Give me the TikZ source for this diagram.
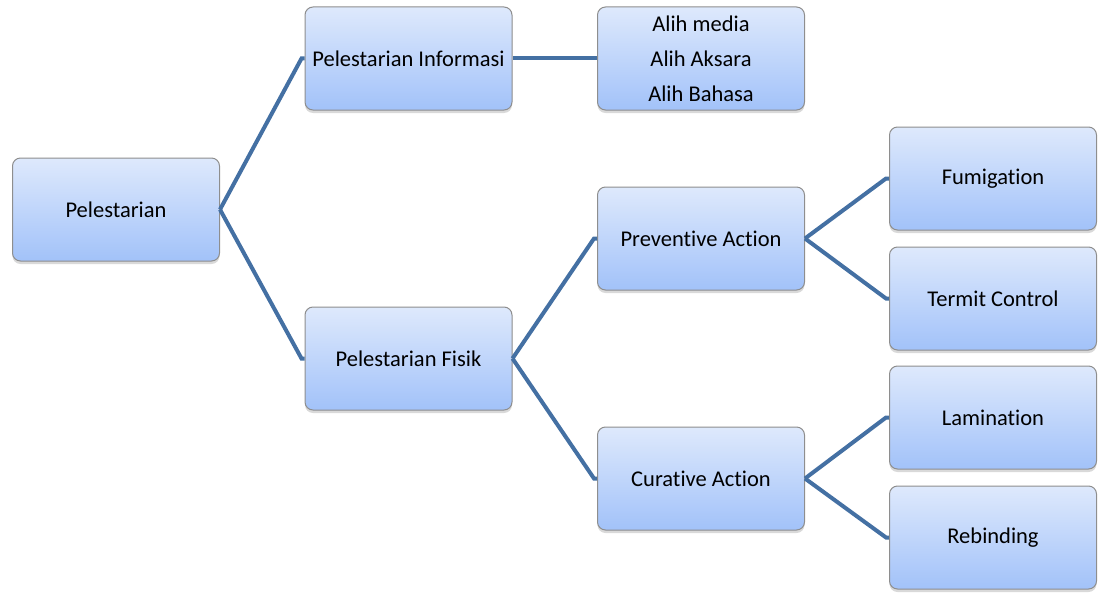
\documentclass[tikz,border=0pt]{standalone}
\usepackage{fontspec}
\setmainfont{Carlito}[Ligatures={NoCommon}]
\usetikzlibrary{shadows}
\definecolor{lineblue}{HTML}{4470A3}
\definecolor{boxtop}{HTML}{DEE9FC}
\definecolor{boxbot}{HTML}{A2C2F9}
\definecolor{boxedge}{HTML}{8E8E8E}
\tikzset{
  box/.style={draw=boxedge, line width=1pt, rounded corners=8pt,
    top color=boxtop, bottom color=boxbot,
    minimum width=207pt, minimum height=103pt, inner sep=0pt,
    align=center, font=\fontsize{22.5}{35}\selectfont,
    drop shadow={shadow xshift=0pt, shadow yshift=-3pt, opacity=0.25, fill=black!60}},
  conn/.style={draw=lineblue, line width=4pt, line join=miter}
}
\begin{document}
\begin{tikzpicture}[x=1pt,y=-1pt]
\useasboundingbox (0,0) rectangle (1098,594);
\node[box] (P) at (116,209.5) {Pelestarian};
\node[box] (PI) at (408.5,58.5) {Pelestarian Informasi};
\node[box] (AL) at (701,58.5) {Alih media\\Alih Aksara\\Alih Bahasa};
\node[box] (PA) at (701,238.5) {Preventive Action};
\node[box] (PF) at (408.5,358.5) {Pelestarian Fisik};
\node[box] (CA) at (701,478.5) {Curative Action};
\node[box] (FU) at (993,178.5) {Fumigation};
\node[box] (TC) at (993,298.5) {Termit Control};
\node[box] (LA) at (993,417.5) {Lamination};
\node[box] (RB) at (993,537.5) {Rebinding};
\draw[conn] (P.east) -- ([xshift=-3pt]PI.west) -- (PI.west);
\draw[conn] (P.east) -- ([xshift=-3pt]PF.west) -- (PF.west);
\draw[conn] (PI.east) -- (AL.west);
\draw[conn] (PF.east) -- ([xshift=-3pt]PA.west) -- (PA.west);
\draw[conn] (PF.east) -- ([xshift=-3pt]CA.west) -- (CA.west);
\draw[conn] (PA.east) -- ([xshift=-3pt]FU.west) -- (FU.west);
\draw[conn] (PA.east) -- ([xshift=-3pt]TC.west) -- (TC.west);
\draw[conn] (CA.east) -- ([xshift=-3pt]LA.west) -- (LA.west);
\draw[conn] (CA.east) -- ([xshift=-3pt]RB.west) -- (RB.west);
\end{tikzpicture}
\end{document}
